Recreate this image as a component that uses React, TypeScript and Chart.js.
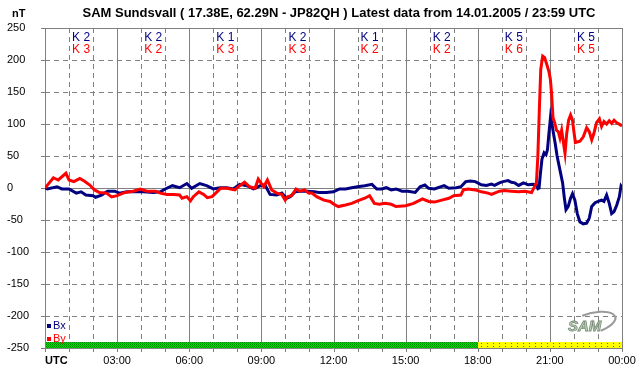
import React, { useEffect, useRef } from 'react';
import { Chart, registerables } from 'chart.js';

Chart.register(...registerables);

const titleText = 'SAM Sundsvall ( 17.38E, 62.29N - JP82QH ) Latest data from 14.01.2005 / 23:59 UTC';
const unitLabel = 'nT';
const timeLabels = ['UTC', '03:00', '06:00', '09:00', '12:00', '15:00', '18:00', '21:00', '00:00'];
const seriesNames = ['Bx', 'By'];
const kBx = [2, 2, 1, 2, 1, 2, 5, 5];
const kBy = [3, 2, 3, 3, 2, 2, 6, 5];
const statusSplitHour = 18;

const bxHours = [
  0, 0.1, 0.5, 0.7, 1.0, 1.3, 1.5, 1.7, 2.0, 2.1, 2.35, 2.6, 2.9, 3.1, 3.4, 3.8, 4.1, 4.5, 4.8, 5.0,
  5.3, 5.6, 5.9, 6.1, 6.44, 6.72, 7.0, 7.28, 7.56, 7.83, 8.1, 8.4, 8.67, 8.8, 8.95, 9.15, 9.36, 9.64, 9.85, 10.05,
  10.2, 10.4, 10.6, 10.9, 11.2, 11.4, 11.7, 12.0, 12.25, 12.5, 12.76, 13.0, 13.3, 13.6, 13.8, 14.0, 14.2, 14.4, 14.6, 14.85,
  15.1, 15.4, 15.6, 15.8, 15.96, 16.2, 16.6, 16.8, 17.1, 17.3, 17.5, 17.7, 17.9, 18.15, 18.36, 18.57, 18.7, 18.9, 19.05, 19.26,
  19.4, 19.54, 19.7, 19.9, 20.1, 20.3, 20.44, 20.5, 20.55, 20.6, 20.67, 20.76, 20.84, 20.9, 20.96, 21.03, 21.07, 21.15, 21.22, 21.3,
  21.42, 21.53, 21.6, 21.67, 21.76, 21.86, 21.94, 22.04, 22.14, 22.25, 22.39, 22.53, 22.64, 22.74, 22.88, 23.01, 23.15, 23.25, 23.36, 23.47,
  23.57, 23.67, 23.78, 23.89, 23.96, 24.0,
];
const bxValues = [
  0, -1.5, 2, -1.5, -1.5, -8, -6, -11, -12, -14.5, -11, -5, -5, -8, -6, -6, -6, -7, -6, -1.5,
  3.6, 0.5, 7, -0.5, 7, 3.6, -1.5, 0.5, 0.5, -1.5, 5.7, 3.6, -1.5, 0.5, 3.6, 4.7, -10, -11, -8, -16,
  -13.5, -6, -5, -5, -6, -7, -7, -6, -1.5, -1.5, 0.5, 2, 3.6, 5.7, -1.5, -1.5, 0.5, -3, -1.5, -5,
  -5, -7, 2, 4.7, -0.5, -1.5, 3.6, -0.5, 0.5, 2, 10, 11, 10, 5, 4, 6, 4, 8, 10, 11.5,
  9, 8, 4, 8, 5, 6, 5, -1, 0, 20, 45, 55, 52, 60, 85, 112, 104, 85, 70, 50,
  28, 8, -15, -34, -29, -16, -9, -19, -40, -53, -56, -55, -47, -29, -23, -21, -19, -21, -11, -24,
  -40, -37, -27, -13.5, 3, 1,
];

const byHours = [
  0, 0.35, 0.55, 0.87, 1.0, 1.2, 1.45, 1.63, 1.85, 2.06, 2.27, 2.56, 2.77, 3.0, 3.33, 3.67, 3.96, 4.24, 4.6, 4.8,
  5.07, 5.35, 5.6, 5.7, 5.9, 6.05, 6.17, 6.4, 6.6, 6.75, 6.95, 7.1, 7.3, 7.56, 7.9, 8.1, 8.3, 8.5, 8.74, 8.87,
  9.0, 9.1, 9.25, 9.43, 9.64, 9.85, 9.99, 10.1, 10.26, 10.44, 10.6, 10.8, 10.96, 11.1, 11.3, 11.6, 11.86, 12.0, 12.2, 12.5,
  12.76, 13.0, 13.3, 13.5, 13.7, 13.9, 14.15, 14.4, 14.6, 15.0, 15.33, 15.7, 15.96, 16.2, 16.5, 16.8, 17.0, 17.3, 17.4, 17.6,
  17.9, 18.15, 18.43, 18.57, 18.7, 18.9, 19.1, 19.4, 19.7, 19.96, 20.24, 20.3, 20.44, 20.5, 20.56, 20.62, 20.7, 20.78, 20.88, 20.96,
  21.02, 21.07, 21.13, 21.2, 21.28, 21.35, 21.42, 21.49, 21.56, 21.63, 21.7, 21.78, 21.86, 21.94, 22.0, 22.06, 22.25, 22.39, 22.53, 22.64,
  22.74, 22.83, 22.94, 23.06, 23.15, 23.25, 23.36, 23.47, 23.57, 23.67, 23.78, 23.92, 24.0,
];
const byValues = [
  0, 16, 12.5, 23, 12.5, 10, 15, 11, 5, -3, -7, -8, -14, -12, -7, -5, -1.5, -5, -5, -8,
  -10, -10, -11, -16, -13.5, -20, -13.5, -6, -10, -15, -13.5, -8, -0.5, -0.5, -3, 3.6, 9, 2, -0.5, 14,
  7, 2, 12.5, -3, -8, -10, -19, -13.5, -12, -1.5, -5, -3, -8, -8, -13.5, -19, -21, -25, -29, -26.5,
  -24, -20, -16, -12, -24, -25.5, -24, -25.5, -29, -27.6, -24, -17, -21, -22, -19, -16, -12, -11, -3, -1.5,
  -3, -6, -8, -10, -8, -5, -4, -5, -6, -5, -7, -2.6, 8, 50, 120, 185, 206, 204, 192, 182,
  170, 148, 110, 102, 90, 88, 78, 90, 72, 54, 85, 106, 114, 106, 88, 71, 73, 80, 94, 88,
  75, 85, 102, 108, 96, 104, 100, 105, 101, 106, 102, 99, 97,
];

const FONT = '"Liberation Sans", Arial, sans-serif';
const GRID = '#808080';
const BX_COLOR = '#000080';
const BY_COLOR = '#ff0000';

function makePattern(ctx: CanvasRenderingContext2D, w: number, h: number, draw: (c: CanvasRenderingContext2D) => void) {
  const off = document.createElement('canvas');
  off.width = w;
  off.height = h;
  const c = off.getContext('2d')!;
  draw(c);
  return ctx.createPattern(off, 'repeat')!;
}

const decor = {
  id: 'decor',
  beforeDatasetsDraw(chart: any) {
    const { ctx, chartArea: a, scales } = chart;
    const x = scales.x;
    const y = scales.y;
    ctx.save();
    ctx.lineWidth = 1;
    ctx.strokeStyle = GRID;
    const line = (x1: number, y1: number, x2: number, y2: number, dash: number[]) => {
      ctx.setLineDash(dash);
      ctx.beginPath();
      ctx.moveTo(x1, y1);
      ctx.lineTo(x2, y2);
      ctx.stroke();
    };
    for (let v = -250; v <= 250; v += 50) {
      const py = Math.round(y.getPixelForValue(v)) + 0.5;
      const solid = v === 0 || v === 250 || v === -250;
      line(a.left, py, a.right, py, solid ? [] : [5, 4]);
      line(a.left - 4, py, a.left, py, []);
    }
    for (let h = 0; h <= 24; h++) {
      const px = Math.round(x.getPixelForValue(h)) + 0.5;
      const solid = h % 3 === 0;
      line(px, a.top, px, a.bottom, solid ? [] : [5, 4]);
      line(px, a.bottom, px, a.bottom + 4, []);
    }
    ctx.setLineDash([]);

    // status bar
    const barTop = Math.round(a.bottom) - 6;
    const xs = Math.round(x.getPixelForValue(statusSplitHour));
    const x0 = Math.round(a.left) + 1;
    const x1 = Math.round(a.right);
    ctx.fillStyle = makePattern(ctx, 2, 2, (c) => {
      c.fillStyle = '#00e000';
      c.fillRect(0, 0, 2, 2);
      c.fillStyle = '#008800';
      c.fillRect(0, 0, 1, 1);
      c.fillRect(1, 1, 1, 1);
    });
    ctx.fillRect(x0, barTop, xs - x0, 6);
    ctx.fillStyle = makePattern(ctx, 6, 3, (c) => {
      c.fillStyle = '#ffff00';
      c.fillRect(0, 0, 6, 3);
      c.fillStyle = '#ff2020';
      c.fillRect(1, 1, 1, 1);
    });
    ctx.fillRect(xs, barTop, x1 - xs, 6);

    // K indices
    ctx.font = `12px ${FONT}`;
    ctx.textAlign = 'center';
    ctx.textBaseline = 'middle';
    for (let i = 0; i < kBx.length; i++) {
      const cx = x.getPixelForValue(1.5 + 3 * i);
      ctx.fillStyle = BX_COLOR;
      ctx.fillText(`K ${kBx[i]}`, cx, a.top + 10);
      ctx.fillStyle = BY_COLOR;
      ctx.fillText(`K ${kBy[i]}`, cx, a.top + 22);
    }
    ctx.restore();
  },
  afterDraw(chart: any) {
    const { ctx, chartArea: a } = chart;
    ctx.save();
    ctx.fillStyle = '#000';
    ctx.textBaseline = 'middle';
    ctx.font = `bold 13px ${FONT}`;
    ctx.textAlign = 'center';
    ctx.fillText(titleText, 339, 13);
    ctx.textAlign = 'left';
    ctx.font = `bold 11px ${FONT}`;
    ctx.fillText(unitLabel, 12, 14);
    ctx.fillText(timeLabels[0], a.left, a.bottom + 13);

    // legend
    ctx.font = `11px ${FONT}`;
    ctx.fillStyle = BX_COLOR;
    ctx.fillRect(47, 324, 4, 4);
    ctx.fillText(seriesNames[0], 53, 326);
    ctx.fillStyle = BY_COLOR;
    ctx.fillRect(47, 337, 4, 4);
    ctx.fillText(seriesNames[1], 53, 339);

    // logo
    ctx.strokeStyle = '#9a9a9a';
    ctx.lineWidth = 2;
    ctx.beginPath();
    ctx.ellipse(592, 323, 24, 10, -0.25, -1.9, 1.3);
    ctx.stroke();
    ctx.font = `italic bold 15px ${FONT}`;
    ctx.fillStyle = '#b8d8b0';
    ctx.strokeStyle = '#7a8a7a';
    ctx.lineWidth = 0.8;
    ctx.fillText('SAM', 568, 327);
    ctx.strokeText('SAM', 568, 327);
    ctx.restore();
  },
};

export default function App() {
  const ref = useRef<HTMLCanvasElement | null>(null);
  useEffect(() => {
    if (!ref.current) return;
    const chart = new Chart(ref.current, {
      type: 'line',
      data: {
        datasets: [
          {
            label: seriesNames[1],
            data: byHours.map((h, i) => ({ x: h, y: byValues[i] })),
            borderColor: BY_COLOR,
            backgroundColor: BY_COLOR,
          },
          {
            label: seriesNames[0],
            data: bxHours.map((h, i) => ({ x: h, y: bxValues[i] })),
            borderColor: BX_COLOR,
            backgroundColor: BX_COLOR,
          },
        ],
      },
      options: {
        animation: false,
        responsive: false,
        devicePixelRatio: 1,
        layout: { padding: { left: 7, top: 28, right: 20, bottom: 0 } },
        plugins: {
          legend: { display: false },
          title: { display: false },
          tooltip: { enabled: false },
        },
        elements: {
          point: { radius: 0 },
          line: { tension: 0, borderWidth: 3 },
        },
        scales: {
          x: {
            type: 'linear',
            min: 0,
            max: 24,
            grid: { display: false, drawTicks: false },
            border: { display: false },
            ticks: {
              stepSize: 3,
              autoSkip: false,
              maxRotation: 0,
              padding: 6,
              color: '#000',
              font: { family: FONT, size: 11 },
              callback: (v: any) => (v === 0 ? '' : timeLabels[Math.round(Number(v) / 3)]),
            },
            afterFit: (s: any) => {
              s.height = 28;
            },
          },
          y: {
            min: -250,
            max: 250,
            grid: { display: false, drawTicks: false },
            border: { display: false },
            ticks: {
              stepSize: 50,
              crossAlign: 'far',
              padding: 0,
              color: '#000',
              font: { family: FONT, size: 11 },
            },
            afterFit: (s: any) => {
              s.width = 38;
            },
          },
        },
      } as any,
      plugins: [decor],
    });
    return () => chart.destroy();
  }, []);
  return (
    <div style={{ position: 'fixed', left: 0, top: 0, width: 642, height: 376, background: '#fff' }}>
      <canvas ref={ref} width={642} height={376} style={{ display: 'block' }} />
    </div>
  );
}
